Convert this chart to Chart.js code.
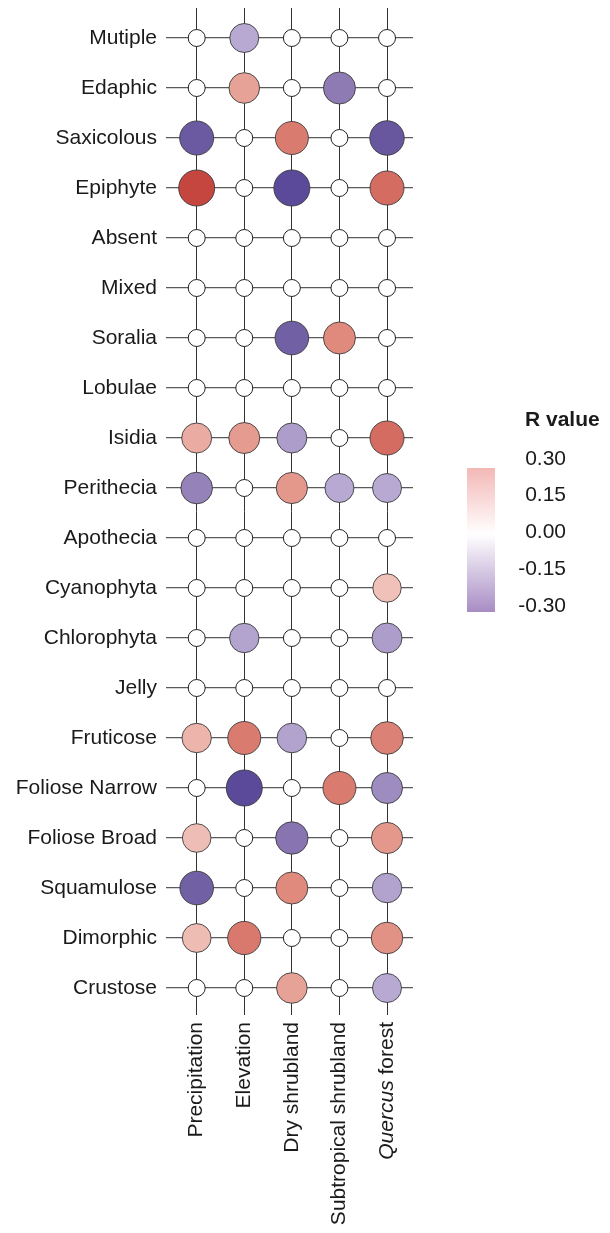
<!DOCTYPE html>
<html>
<head>
<meta charset="utf-8">
<script src="https://cdn.jsdelivr.net/npm/chart.js@4.4.1/dist/chart.umd.min.js"></script>
<style>
  html, body { margin: 0; padding: 0; background: #fff; }
  canvas { display: block; }
</style>
</head>
<body>
<canvas id="c" width="610" height="1233"></canvas>
<script>
// ---- data ----
const rows = ['Mutiple','Edaphic','Saxicolous','Epiphyte','Absent','Mixed','Soralia','Lobulae','Isidia','Perithecia','Apothecia','Cyanophyta','Chlorophyta','Jelly','Fruticose','Foliose Narrow','Foliose Broad','Squamulose','Dimorphic','Crustose'];
const cols = ['Precipitation','Elevation','Dry shrubland','Subtropical shrubland','Quercus forest'];

const precipitation = [0, 0, -0.50, 0.60, 0, 0, 0, 0, 0.30, -0.38, 0, 0, 0, 0, 0.27, 0, 0.23, -0.48, 0.24, 0];
const elevation     = [-0.25, 0.33, 0, 0, 0, 0, 0, 0, 0.35, 0, 0, 0, -0.27, 0, 0.45, -0.60, 0, 0, 0.46, 0];
const dryShrubland  = [0, 0, 0.45, -0.60, 0, 0, -0.48, 0, -0.30, 0.36, 0, 0, 0, 0, -0.28, 0, -0.42, 0.40, 0, 0.33];
const subtropical   = [0, -0.40, 0, 0, 0, 0, 0.40, 0, 0, -0.25, 0, 0, 0, 0, 0, 0.45, 0, 0, 0, 0];
const quercus       = [0, 0, -0.52, 0.50, 0, 0, 0, 0, 0.50, -0.25, 0, 0.22, -0.30, 0, 0.43, -0.35, 0.36, -0.28, 0.38, -0.25];

const legendTicks = ['0.30', '0.15', '0.00', '-0.15', '-0.30'];

const series = [precipitation, elevation, dryShrubland, subtropical, quercus];

// ---- styling helpers ----
const FONT = '"Liberation Sans", Arial, Helvetica, sans-serif';
const FS = 21;
const posAnchors = [[0.2,'#f0c6be'],[0.3,'#eaaca2'],[0.4,'#e08a7e'],[0.5,'#d46c61'],[0.6,'#c4463f']];
const negAnchors = [[0.2,'#c0b4d8'],[0.3,'#ad9dcb'],[0.4,'#8e7bb4'],[0.5,'#6b59a1'],[0.6,'#5a4a99']];
function hex2rgb(h){ return [parseInt(h.slice(1,3),16),parseInt(h.slice(3,5),16),parseInt(h.slice(5,7),16)]; }
function colorFor(v){
  if (v === 0) return '#ffffff';
  const a = Math.abs(v);
  const anc = v > 0 ? posAnchors : negAnchors;
  if (a <= anc[0][0]) return anc[0][1];
  if (a >= anc[anc.length-1][0]) return anc[anc.length-1][1];
  for (let i = 0; i < anc.length-1; i++) {
    if (a >= anc[i][0] && a <= anc[i+1][0]) {
      const t = (a - anc[i][0]) / (anc[i+1][0] - anc[i][0]);
      const c1 = hex2rgb(anc[i][1]), c2 = hex2rgb(anc[i+1][1]);
      const c = c1.map((x, k) => Math.round(x + (c2[k]-x)*t));
      return `rgb(${c[0]},${c[1]},${c[2]})`;
    }
  }
  return '#fff';
}
function radiusFor(v){ return v === 0 ? 8.5 : 12 + 10*Math.abs(v); }

const points = [];
series.forEach((arr, ci) => arr.forEach((v, ri) => points.push({x: ci, y: ri, v: v})));

// ---- plugins ----
const extras = {
  id: 'extras',
  afterDraw(chart) {
    const ctx = chart.ctx;
    const xs = chart.scales.x;
    // italic "Quercus" label
    ctx.save();
    const px = xs.getPixelForValue(4);
    ctx.translate(px, xs.top + 7);
    ctx.rotate(-Math.PI/2);
    ctx.textBaseline = 'middle';
    ctx.fillStyle = '#1a1a1a';
    ctx.textAlign = 'right';
    ctx.font = `${FS}px ${FONT}`;
    const rest = ' forest';
    const w1 = ctx.measureText(rest).width;
    ctx.fillText(rest, 0, 0);
    ctx.font = `italic ${FS}px ${FONT}`;
    ctx.fillText('Quercus', -w1, 0);
    ctx.restore();

    // colour legend
    ctx.save();
    ctx.fillStyle = '#1a1a1a';
    ctx.font = `bold ${FS}px ${FONT}`;
    ctx.textAlign = 'left';
    ctx.textBaseline = 'middle';
    ctx.fillText('R value', 525, 420);
    const bx = 467, by = 468, bw = 28, bh = 144;
    const g = ctx.createLinearGradient(0, by, 0, by + bh);
    g.addColorStop(0, '#f3b8b6');
    g.addColorStop(0.46, '#ffffff');
    g.addColorStop(1, '#a88cc4');
    ctx.fillStyle = g;
    ctx.fillRect(bx, by, bw, bh);
    ctx.fillStyle = '#1a1a1a';
    ctx.font = `${FS}px ${FONT}`;
    ctx.textAlign = 'right';
    legendTicks.forEach((t, i) => ctx.fillText(t, 566, 459 + i*36.7));
    ctx.restore();
  }
};

new Chart(document.getElementById('c'), {
  type: 'scatter',
  data: {
    datasets: [{
      data: points,
      clip: false,
      pointRadius: c => radiusFor(c.raw.v),
      pointHoverRadius: c => radiusFor(c.raw.v),
      pointBackgroundColor: c => colorFor(c.raw.v),
      pointBorderColor: c => c.raw.v === 0 ? '#222' : '#3d3d3d',
      pointBorderWidth: c => c.raw.v === 0 ? 1 : 0.9,
    }]
  },
  options: {
    responsive: false,
    animation: false,
    events: [],
    layout: { autoPadding: false, padding: { top: 8, right: 197, left: 0, bottom: 0 } },
    plugins: { legend: { display: false }, tooltip: { enabled: false } },
    scales: {
      x: {
        type: 'linear',
        position: 'bottom',
        min: -0.645,
        max: 4.546,
        afterBuildTicks: s => { s.ticks = cols.map((_, i) => ({ value: i })); },
        afterFit: s => { s.height = 1233 - 1015; s.paddingLeft = 0; s.paddingRight = 0; },
        border: { display: false },
        grid: { color: '#333', lineWidth: 1, drawTicks: false },
        ticks: {
          autoSkip: false,
          minRotation: 90,
          maxRotation: 90,
          padding: 7,
          color: '#1a1a1a',
          font: { family: FONT, size: FS },
          callback: v => (v === 4 ? '' : cols[v])
        }
      },
      y: {
        type: 'linear',
        reverse: true,
        min: -0.6,
        max: 19.54,
        afterBuildTicks: s => { s.ticks = rows.map((_, i) => ({ value: i })); },
        afterFit: s => { s.width = 166; s.paddingTop = 0; s.paddingBottom = 0; },
        border: { display: false },
        grid: { color: '#5a5a5a', lineWidth: 1.2, drawTicks: false },
        ticks: {
          padding: 9,
          color: '#1a1a1a',
          font: { family: FONT, size: FS, lineHeight: 0.01 },
          callback: v => rows[v]
        }
      }
    }
  },
  plugins: [extras]
});
</script>
</body>
</html>
